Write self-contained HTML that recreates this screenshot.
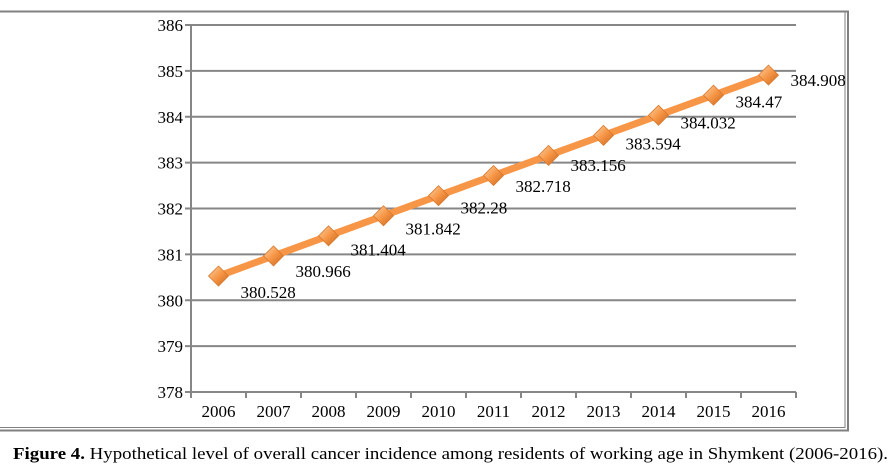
<!DOCTYPE html>
<html><head><meta charset="utf-8"><style>
body{margin:0;background:#fff;width:893px;height:470px;overflow:hidden;font-family:"Liberation Serif",serif}
</style></head><body>
<svg width="893" height="470" id="c" font-family="Liberation Serif, serif">
<defs><linearGradient id="g" x1="0" y1="0" x2="1" y2="1"><stop offset="0" stop-color="#fcd5a8"/><stop offset="0.5" stop-color="#f79646"/><stop offset="1" stop-color="#c8651c"/></linearGradient></defs>
<rect x="-5" y="11.5" width="853" height="419" fill="none" stroke="#808080" stroke-width="2"/>
<rect x="-5" y="11.5" width="850" height="416" fill="none" stroke="#808080" stroke-width="1"/>
<g id="grid"></g><g id="marks"></g>
<text x="13" y="459" font-size="17" fill="#000" textLength="875" lengthAdjust="spacingAndGlyphs"><tspan font-weight="bold">Figure 4.</tspan> Hypothetical level of overall cancer incidence among residents of working age in Shymkent (2006-2016).</text>
</svg>
<script>
const categories=["2006","2007","2008","2009","2010","2011","2012","2013","2014","2015","2016"];
const values=[380.528,380.966,381.404,381.842,382.28,382.718,383.156,383.594,384.032,384.47,384.908];
const labels=["380.528","380.966","381.404","381.842","382.28","382.718","383.156","383.594","384.032","384.47","384.908"];
const yTicks=[378,379,380,381,382,383,384,385,386];
const NS="http://www.w3.org/2000/svg";
const x0=191,x1=796,yTop=25,yBot=392,ymin=378,ymax=386;
const bw=(x1-x0)/categories.length;
const X=i=>x0+bw*(i+0.5), Y=v=>yBot-(v-ymin)/(ymax-ymin)*(yBot-yTop);
function mk(t,a,p){const e=document.createElementNS(NS,t);for(const k in a)e.setAttribute(k,a[k]);p.appendChild(e);return e;}
const grid=document.getElementById('grid'),marks=document.getElementById('marks');
yTicks.forEach(v=>{
 const y=Y(v);
 const l=mk('line',{x1:x0-6,x2:x1,y1:y,y2:y,stroke:'#868686','stroke-width':2},grid);
 
 
 const t=mk('text',{x:x0-8,y:y+6,'text-anchor':'end','font-size':17},grid);t.textContent=v;
 
 
});
const ax=mk('line',{x1:x0,x2:x0,y1:yTop,y2:yBot,stroke:'#868686','stroke-width':2},grid);


for(let i=0;i<=categories.length;i++){const x=x0+bw*i;const tk=mk('line',{x1:x,x2:x,y1:yBot,y2:yBot+6,stroke:'#868686','stroke-width':2},grid);
 
 }
categories.forEach((c,i)=>{const t=mk('text',{x:X(i),y:yBot+25,'text-anchor':'middle','font-size':17},grid);t.textContent=c;
 
 });
const pl=mk('polyline',{points:values.map((v,i)=>X(i)+','+Y(v)).join(' '),fill:'none',stroke:'#f79646','stroke-width':7,'stroke-linejoin':'round'},marks);


values.forEach((v,i)=>{const x=X(i),y=Y(v),s=10;
 const d=mk('polygon',{points:`${x},${y-s} ${x+s},${y} ${x},${y+s} ${x-s},${y}`,fill:'url(#g)',stroke:'#d9782c','stroke-width':0.8},marks);
 
 
 const t=mk('text',{x:x+22,y:y+22-i*1.1,'font-size':17},marks);t.textContent=labels[i];
 
 
});
</script>
</body></html>
